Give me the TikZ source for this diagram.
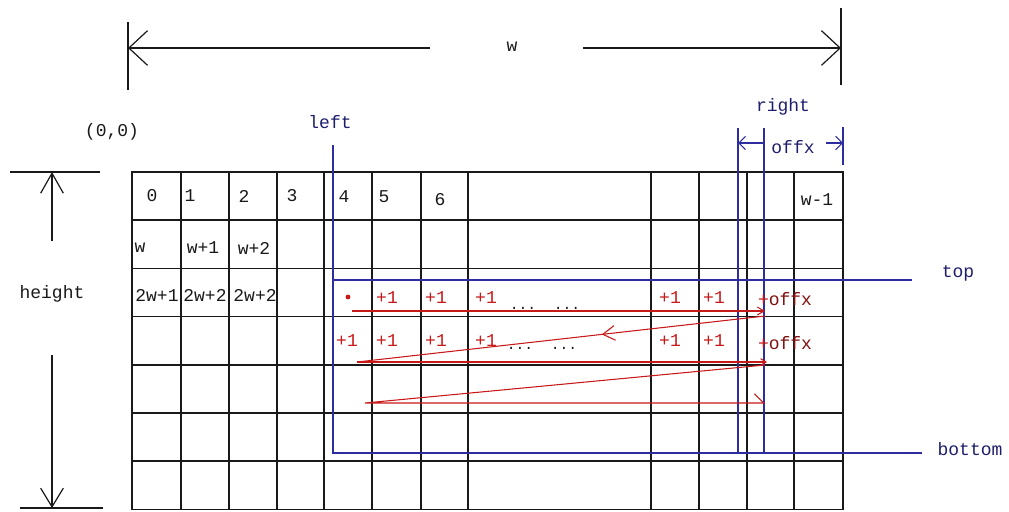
\documentclass[tikz,border=0pt]{standalone}
\usepackage{fontspec}
\setmonofont{Liberation Mono}
\usetikzlibrary{arrows.meta, decorations.markings}
\definecolor{ink}{RGB}{25,25,25}
\definecolor{navy}{RGB}{30,30,110}
\definecolor{boundblue}{RGB}{45,45,160}
\definecolor{scanred}{RGB}{200,25,25}

\begin{document}
\begin{tikzpicture}[x=0.75pt, y=-0.75pt,
  txt/.style={font=\fontsize{13.5}{15}\selectfont\ttfamily, inner sep=0pt, text=ink},
  bluelbl/.style={txt, text=navy},
  plusone/.style={txt, text=scanred},
  dotrow/.style={font=\fontsize{11}{12}\selectfont\ttfamily, inner sep=0pt, text=ink, anchor=base},
  gridline/.style={draw=ink, line width=1.1pt, line cap=rect},
  bound/.style={draw=boundblue, line width=0.8pt},
  dimline/.style={draw=ink, line width=0.9pt},
  walk/.style={draw=scanred, line width=0.8pt},
]
\useasboundingbox (0,0) rectangle (1009,511);

% Image grid
\foreach \gy in {172,220.2,268.4,316.6,364.8,413,461.2,509.4}
  \draw[gridline] (132,\gy) -- (843,\gy);
\foreach \gx in {132,181,229,277,324,372,421,468,651,699,747,794,843}
  \draw[gridline] (\gx,172) -- (\gx,509.4);

% Pixel indices
\node[txt] (n0) at (152,196) {0};
\node[txt] (n1) at (190,196) {1};
\node[txt] (n2) at (244,196) {2};
\node[txt] (n3) at (292,196) {3};
\node[txt] (n4) at (344,197) {4};
\node[txt] (n5) at (384,197) {5};
\node[txt] (n6) at (440,200) {6};
\node[txt] (nlast) at (817,200) {w-1};
\node[txt] (nw) at (140,248) {w};
\node[txt] (nw1) at (203,248) {w+1};
\node[txt] (nw2) at (254,248) {w+2};
\node[txt] (n2w1) at (157,295) {2w+1};
\node[txt] (n2w2) at (205,295) {2w+2};
\node[txt] (n2w3) at (255,295) {2w+2};

% Width dimension
\coordinate (wleft) at (128,48);
\coordinate (wright) at (841,48);
\draw[dimline] (128,22) -- (128,90);
\draw[dimline] (841,8) -- (841,85);
\node[txt] (wlab) at (512,47) {w};
\draw[dimline, -{Straight Barb[length=14pt,width=26pt]}] (430,48) -- (wleft);
\draw[dimline, -{Straight Barb[length=14pt,width=26pt]}] (583,48) -- (wright);

% Height dimension
\coordinate (htop) at (52,172);
\coordinate (hbot) at (52,508);
\draw[dimline] (10,172) -- (100,172);
\draw[dimline] (20,508) -- (103,508);
\node[txt] (hlab) at (52,294) {height};
\draw[dimline, -{Straight Barb[length=15pt,width=17pt]}] (52,241) -- (htop);
\draw[dimline, -{Straight Barb[length=14pt,width=17pt]}] (52,355) -- (hbot);

\node[txt] (origin) at (112,132) {(0,0)};

% Sub-window bounds
\node[bluelbl] (left) at (330,122) {left};
\node[bluelbl] (right) at (783,107) {right};
\node[bluelbl] (offx) at (793,147) {offx};
\node[bluelbl] (top) at (958,273) {top};
\node[bluelbl] (bottom) at (970,449) {bottom};

\draw[bound] (333,145) -- (333,453) -- (922,453);
\draw[bound] (333,280) -- (912,280);
\draw[bound] (738,128) -- (738,453);
\draw[bound] (764,128) -- (764,453);
\draw[bound] (843,127) -- (843,165);
\draw[bound, -{Straight Barb[length=5pt,width=10pt]}] (764,143) -- (738,143);
\draw[bound, -{Straight Barb[length=5pt,width=10pt]}] (826,143) -- (843,143);

% Scan order
\fill[scanred] (348,297) circle (1.8pt);
\foreach \px in {387,436,486,670,714}
  \node[plusone] at (\px,298) {+1};
\foreach \px in {347,387,436,486,670,714}
  \node[plusone] at (\px,341) {+1};
\node[plusone] (offa) at (785,299) {+\textcolor{scanred!65!black}{offx}};
\node[plusone] (offb) at (785,343) {+\textcolor{scanred!65!black}{offx}};
\node[dotrow] (dotsa) at (545,309) {...~~...};
\node[dotrow] (dotsb) at (542,349) {...~~...};

\coordinate (a0) at (352,311);
\coordinate (a1) at (765,311);
\coordinate (b0) at (765,316);
\coordinate (b1) at (357,362);
\coordinate (c1) at (767,362);
\coordinate (d0) at (765,365);
\coordinate (d1) at (365,403);
\coordinate (e1) at (765,403);

\draw[walk, -{Straight Barb[length=5pt,width=6pt]}] (a0) -- (a1);
\draw[walk, postaction={decorate},
  decoration={markings, mark=at position 0.4 with {\arrow{Straight Barb[length=9pt,width=11pt]}}}]
  (b0) -- (b1);
\draw[walk, -{Straight Barb[length=4pt,width=5pt]}] (b1) -- (c1);
\draw[walk, -{Straight Barb[left,length=7pt,width=14pt]}] (d0) -- (d1) -- (e1);

\end{tikzpicture}
\end{document}
